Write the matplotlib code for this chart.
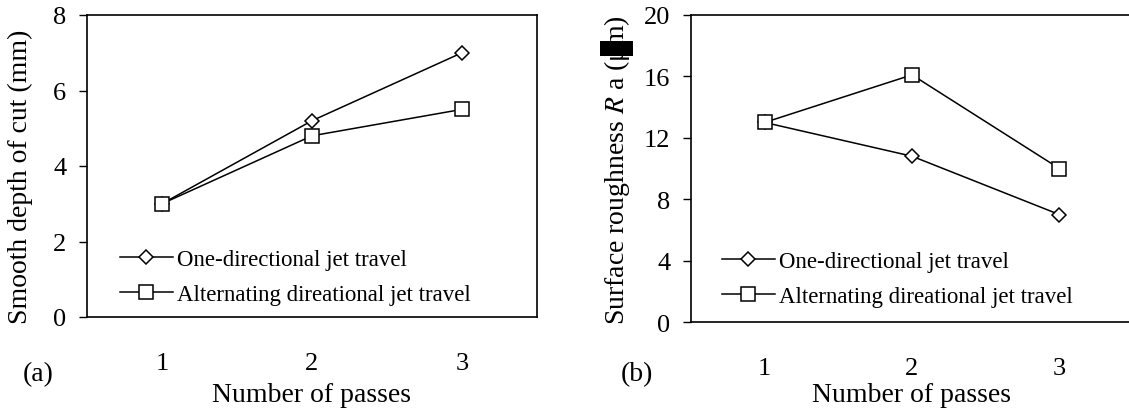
import numpy as np
import matplotlib.pyplot as plt
from matplotlib.patches import Rectangle

plt.rcParams['font.family'] = ['Liberation Serif', 'DejaVu Serif']
plt.rcParams['mathtext.fontset'] = 'stix'

passes = [1, 2, 3]
labels = ['One-directional jet travel', 'Alternating direational jet travel']

# (a) smooth depth of cut, mm
depth_one = [3.0, 5.2, 7.0]
depth_alt = [3.0, 4.8, 5.5]

# (b) surface roughness Ra, um
ra_one = [13.0, 10.8, 7.0]
ra_alt = [13.0, 16.1, 10.0]

W, H = 1129, 410
fig = plt.figure(figsize=(W/100, H/100), dpi=100)

def box(l, r, t, b):
    return [l/W, 1 - b/H, (r - l)/W, (b - t)/H]

ax1 = fig.add_axes(box(87, 537, 16, 318))
ax2 = fig.add_axes(box(691, 1133, 16, 323))

def draw(ax, y1, y2, ymax, yticks, ylabel, lab_xy, leg_xy, xlab_y):
    ax.plot(passes, y1, '-', color='k', lw=1.1, marker='D', ms=7.5,
            mfc='white', mec='k', mew=1.1, label=labels[0])
    ax.plot(passes, y2, '-', color='k', lw=1.1, marker='s', ms=9.5,
            mfc='white', mec='k', mew=1.1, label=labels[1])
    ax.set_xlim(0.5, 3.5)
    ax.set_ylim(0, ymax)
    ax.set_xticks(passes)
    ax.set_yticks(yticks)
    ax.tick_params(axis='x', length=0, pad=25, labelsize=19)
    ax.tick_params(axis='y', direction='out', length=6, width=1, pad=9, labelsize=19)
    for s in ax.spines.values():
        s.set_linewidth(1.2)
    ax.set_ylabel(ylabel, fontsize=20, va='center')
    ax.yaxis.set_label_coords(*lab_xy)
    ax.set_xlabel('Number of passes', fontsize=20)
    ax.xaxis.set_label_coords(0.5, xlab_y)
    ax.xaxis.label.set_va('center')
    ax.legend(loc='upper left', bbox_to_anchor=leg_xy, frameon=False,
              fontsize=16.5, borderpad=0, borderaxespad=0,
              handlelength=2.3, handletextpad=0.2, labelspacing=0.62)

draw(ax1, depth_one, depth_alt, 8, [0, 2, 4, 6, 8],
     'Smooth depth of cut (mm)', (-0.147, 0.467), (0.073, 0.225), -0.255)
draw(ax2, ra_one, ra_alt, 20, [0, 4, 8, 12, 16, 20],
     'Surface roughness $R$ a (\u03bcm)', (-0.167, 0.498), (0.070, 0.231), -0.235)

fig.text(38/W, 1 - 375/H, '(a)', fontsize=20, ha='center', va='center')
fig.text(637/W, 1 - 375/H, '(b)', fontsize=20, ha='center', va='center')

# black block over the unit symbol, as in the source figure
fig.patches.append(Rectangle((600/W, 1 - 57/H), 33/W, 15/H, transform=fig.transFigure,
                             facecolor='black', edgecolor='none'))

fig.savefig('out.png', dpi=100)
